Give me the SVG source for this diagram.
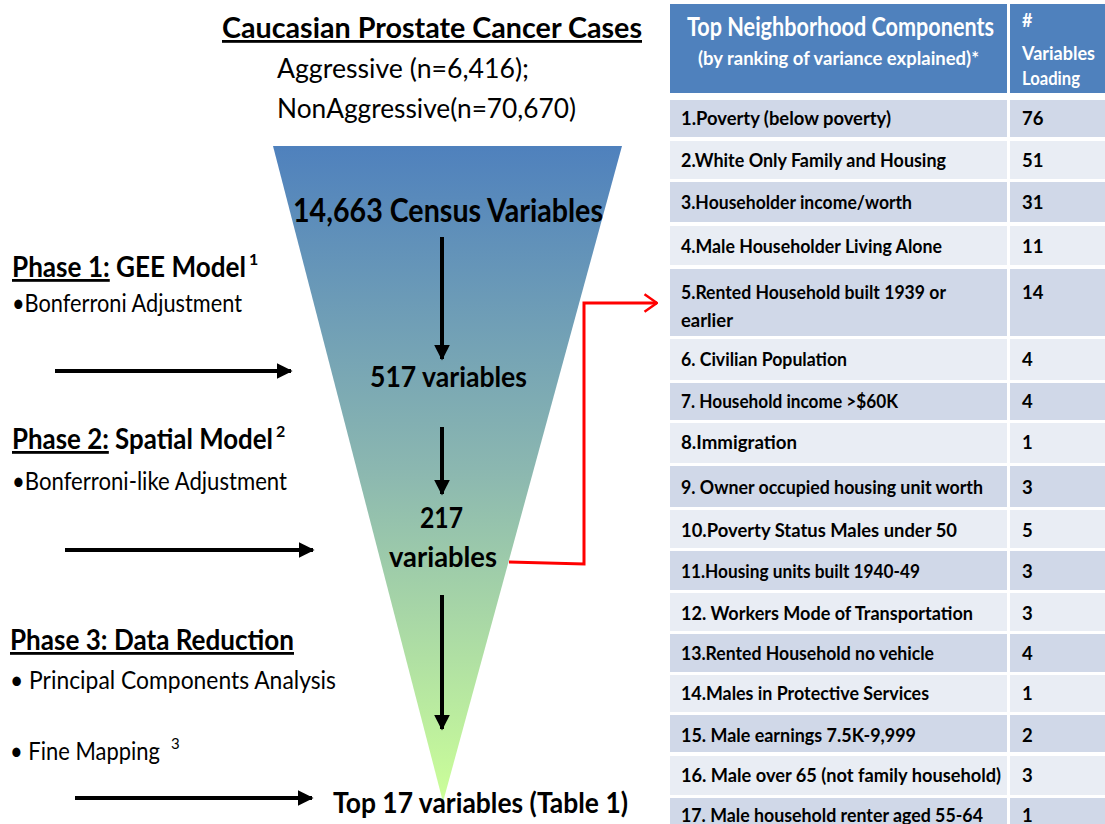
<svg xmlns="http://www.w3.org/2000/svg" width="1105" height="824" viewBox="0 0 1105 824">
<defs>
<linearGradient id="funnelGrad" x1="0" y1="146" x2="0" y2="802" gradientUnits="userSpaceOnUse">
<stop offset="0" stop-color="#4F81BD"/>
<stop offset="0.5" stop-color="#8CB8B0"/>
<stop offset="1" stop-color="#CCFF99"/>
</linearGradient>
<marker id="blackHead" viewBox="0 0 10 10" refX="9" refY="5" markerWidth="4" markerHeight="4" orient="auto" markerUnits="strokeWidth">
<path d="M0,0 L10,5 L0,10 Z" fill="#000"/>
</marker>
<marker id="redHead" viewBox="0 0 12 16" refX="11" refY="8" markerWidth="5" markerHeight="6.7" orient="auto" markerUnits="strokeWidth">
<path d="M1,1 L11,8 L1,15" fill="none" stroke="#FF0000" stroke-width="2"/>
</marker>
<style>
text{font-family:Lato,"Liberation Sans",sans-serif;fill:#000;}
.b{font-weight:bold;}
.hdr{fill:#FFFFFF;font-weight:bold;}
.cell{font-size:18.5px;font-weight:bold;}
.rowA{fill:#D0D8E8;}
.rowB{fill:#E9EDF4;}
.arr{stroke:#000;stroke-width:4;fill:none;marker-end:url(#blackHead);}
.red{stroke:#FF0000;stroke-width:3;fill:none;}
</style>
</defs>
<rect width="1105" height="824" fill="#FFFFFF"/>

<g id="title">
<text x="222" y="38" class="b" font-size="28" text-decoration="underline" textLength="420" lengthAdjust="spacingAndGlyphs">Caucasian  Prostate Cancer Cases</text>
<text x="277" y="78" font-size="27" textLength="252" lengthAdjust="spacingAndGlyphs">Aggressive (n=6,416);</text>
<text x="277" y="118" font-size="27" textLength="299" lengthAdjust="spacingAndGlyphs">NonAggressive(n=70,670)</text>
</g>

<g id="funnel">
<polygon points="273,146 622,146 443,802" fill="url(#funnelGrad)"/>
</g>

<g id="node-census">
<text x="293" y="222" class="b" font-size="32" textLength="310" lengthAdjust="spacingAndGlyphs">14,663 Census Variables</text>
</g>
<g id="node-517">
<text x="370" y="387" class="b" font-size="28" textLength="157" lengthAdjust="spacingAndGlyphs">517 variables</text>
</g>
<g id="node-217">
<text x="420" y="528" class="b" font-size="28" textLength="43" lengthAdjust="spacingAndGlyphs">217</text>
<text x="389" y="567" class="b" font-size="28" textLength="108" lengthAdjust="spacingAndGlyphs">variables</text>
</g>
<g id="node-top17">
<text x="333" y="813" class="b" font-size="28" textLength="295" lengthAdjust="spacingAndGlyphs">Top 17 variables (Table 1)</text>
</g>

<g id="phase1">
<text x="12" y="277" class="b" font-size="28"><tspan textLength="234" lengthAdjust="spacingAndGlyphs"><tspan text-decoration="underline">Phase 1:</tspan> GEE Model</tspan><tspan dx="3" dy="-12" font-size="16">1</tspan></text>
<text x="12" y="312" font-size="25" textLength="230" lengthAdjust="spacingAndGlyphs">•Bonferroni  Adjustment</text>
</g>
<g id="phase2">
<text x="12" y="449" class="b" font-size="28"><tspan textLength="261" lengthAdjust="spacingAndGlyphs"><tspan text-decoration="underline">Phase 2:</tspan> Spatial Model</tspan><tspan dx="3" dy="-12" font-size="16">2</tspan></text>
<text x="12" y="490" font-size="25" textLength="275" lengthAdjust="spacingAndGlyphs">•Bonferroni-like  Adjustment</text>
</g>
<g id="phase3">
<text x="10" y="650" class="b" font-size="28" text-decoration="underline" textLength="284" lengthAdjust="spacingAndGlyphs">Phase 3: Data Reduction</text>
<text x="10" y="689" font-size="25" textLength="326" lengthAdjust="spacingAndGlyphs">• Principal  Components   Analysis</text>
<text x="10" y="760" font-size="25"><tspan textLength="150" lengthAdjust="spacingAndGlyphs">• Fine  Mapping</tspan><tspan dx="11" dy="-11" font-size="15">3</tspan></text>
</g>

<g id="table">
<rect x="670" y="4" width="337" height="89" fill="#4F81BD"/>
<rect x="1010" y="4" width="95" height="89" fill="#4F81BD"/>
<text x="687" y="36" class="hdr" font-size="26" textLength="307" lengthAdjust="spacingAndGlyphs">Top Neighborhood Components</text>
<text x="698" y="65" class="hdr" font-size="19" textLength="281" lengthAdjust="spacingAndGlyphs">(by ranking of variance explained)*</text>
<text class="hdr" font-size="19"><tspan x="1022" y="27" font-size="18">#</tspan><tspan x="1022" y="60" textLength="73" lengthAdjust="spacingAndGlyphs">Variables</tspan><tspan x="1022" y="85" textLength="58" lengthAdjust="spacingAndGlyphs">Loading</tspan></text>

<g id="row1"><rect class="rowA" x="670" y="100" width="337" height="37"/><rect class="rowA" x="1010" y="100" width="95" height="37"/>
<text x="681" y="125" class="cell" textLength="210" lengthAdjust="spacingAndGlyphs">1.Poverty (below poverty)</text><text x="1022" y="125" class="cell">76</text></g>
<g id="row2"><rect class="rowB" x="670" y="141" width="337" height="38"/><rect class="rowB" x="1010" y="141" width="95" height="38"/>
<text x="681" y="167" class="cell" textLength="265" lengthAdjust="spacingAndGlyphs">2.White Only Family and Housing</text><text x="1022" y="167" class="cell">51</text></g>
<g id="row3"><rect class="rowA" x="670" y="182" width="337" height="40"/><rect class="rowA" x="1010" y="182" width="95" height="40"/>
<text x="681" y="209" class="cell" textLength="231" lengthAdjust="spacingAndGlyphs">3.Householder income/worth</text><text x="1022" y="209" class="cell">31</text></g>
<g id="row4"><rect class="rowB" x="670" y="226" width="337" height="39"/><rect class="rowB" x="1010" y="226" width="95" height="39"/>
<text x="681" y="253" class="cell" textLength="261" lengthAdjust="spacingAndGlyphs">4.Male Householder Living Alone</text><text x="1022" y="253" class="cell">11</text></g>
<g id="row5"><rect class="rowA" x="670" y="269" width="337" height="67"/><rect class="rowA" x="1010" y="269" width="95" height="67"/>
<text x="681" y="299" class="cell" textLength="265" lengthAdjust="spacingAndGlyphs">5.Rented Household built 1939 or</text>
<text x="681" y="327" class="cell" textLength="52" lengthAdjust="spacingAndGlyphs">earlier</text><text x="1022" y="299" class="cell">14</text></g>
<g id="row6"><rect class="rowB" x="670" y="339" width="337" height="41"/><rect class="rowB" x="1010" y="339" width="95" height="41"/>
<text x="681" y="366" class="cell" textLength="166" lengthAdjust="spacingAndGlyphs">6. Civilian Population</text><text x="1022" y="366" class="cell">4</text></g>
<g id="row7"><rect class="rowA" x="670" y="383" width="337" height="37"/><rect class="rowA" x="1010" y="383" width="95" height="37"/>
<text x="681" y="408" class="cell" textLength="217" lengthAdjust="spacingAndGlyphs">7. Household income &gt;$60K</text><text x="1022" y="408" class="cell">4</text></g>
<g id="row8"><rect class="rowB" x="670" y="423" width="337" height="40"/><rect class="rowB" x="1010" y="423" width="95" height="40"/>
<text x="681" y="449" class="cell" textLength="116" lengthAdjust="spacingAndGlyphs">8.Immigration</text><text x="1022" y="449" class="cell">1</text></g>
<g id="row9"><rect class="rowA" x="670" y="466" width="337" height="41"/><rect class="rowA" x="1010" y="466" width="95" height="41"/>
<text x="681" y="494" class="cell" textLength="302" lengthAdjust="spacingAndGlyphs">9. Owner occupied housing  unit worth</text><text x="1022" y="494" class="cell">3</text></g>
<g id="row10"><rect class="rowB" x="670" y="510" width="337" height="38"/><rect class="rowB" x="1010" y="510" width="95" height="38"/>
<text x="681" y="537" class="cell" textLength="276" lengthAdjust="spacingAndGlyphs">10.Poverty  Status Males under 50</text><text x="1022" y="537" class="cell">5</text></g>
<g id="row11"><rect class="rowA" x="670" y="551" width="337" height="39"/><rect class="rowA" x="1010" y="551" width="95" height="39"/>
<text x="681" y="578" class="cell" textLength="239" lengthAdjust="spacingAndGlyphs">11.Housing units built 1940-49</text><text x="1022" y="578" class="cell">3</text></g>
<g id="row12"><rect class="rowB" x="670" y="593" width="337" height="38"/><rect class="rowB" x="1010" y="593" width="95" height="38"/>
<text x="681" y="620" class="cell" textLength="292" lengthAdjust="spacingAndGlyphs">12. Workers Mode of Transportation</text><text x="1022" y="620" class="cell">3</text></g>
<g id="row13"><rect class="rowA" x="670" y="634" width="337" height="38"/><rect class="rowA" x="1010" y="634" width="95" height="38"/>
<text x="681" y="660" class="cell" textLength="253" lengthAdjust="spacingAndGlyphs">13.Rented Household no vehicle</text><text x="1022" y="660" class="cell">4</text></g>
<g id="row14"><rect class="rowB" x="670" y="675" width="337" height="37"/><rect class="rowB" x="1010" y="675" width="95" height="37"/>
<text x="681" y="700" class="cell" textLength="248" lengthAdjust="spacingAndGlyphs">14.Males in Protective Services</text><text x="1022" y="700" class="cell">1</text></g>
<g id="row15"><rect class="rowA" x="670" y="715" width="337" height="37"/><rect class="rowA" x="1010" y="715" width="95" height="37"/>
<text x="681" y="742" class="cell" textLength="235" lengthAdjust="spacingAndGlyphs">15.  Male earnings 7.5K-9,999</text><text x="1022" y="742" class="cell">2</text></g>
<g id="row16"><rect class="rowB" x="670" y="756" width="337" height="39"/><rect class="rowB" x="1010" y="756" width="95" height="39"/>
<text x="681" y="782" class="cell" textLength="320" lengthAdjust="spacingAndGlyphs">16. Male over 65 (not family household)</text><text x="1022" y="782" class="cell">3</text></g>
<g id="row17"><rect class="rowA" x="670" y="798" width="337" height="30"/><rect class="rowA" x="1010" y="798" width="95" height="30"/>
<text x="681" y="822" class="cell" textLength="302" lengthAdjust="spacingAndGlyphs">17. Male household renter aged 55-64</text><text x="1022" y="822" class="cell">1</text></g>
</g>

<g id="connectors">
<line class="arr" x1="442" y1="237" x2="442" y2="359"/>
<line class="arr" x1="442" y1="427" x2="442" y2="494"/>
<line class="arr" x1="442" y1="595" x2="442" y2="729"/>
<line class="arr" x1="55" y1="371" x2="291" y2="371"/>
<line class="arr" x1="65" y1="550" x2="313" y2="550"/>
<line class="arr" x1="75" y1="798" x2="312" y2="798"/>
<polyline class="red" points="509,562 584,564 584,303 657,303" marker-end="url(#redHead)"/>
</g>
</svg>
